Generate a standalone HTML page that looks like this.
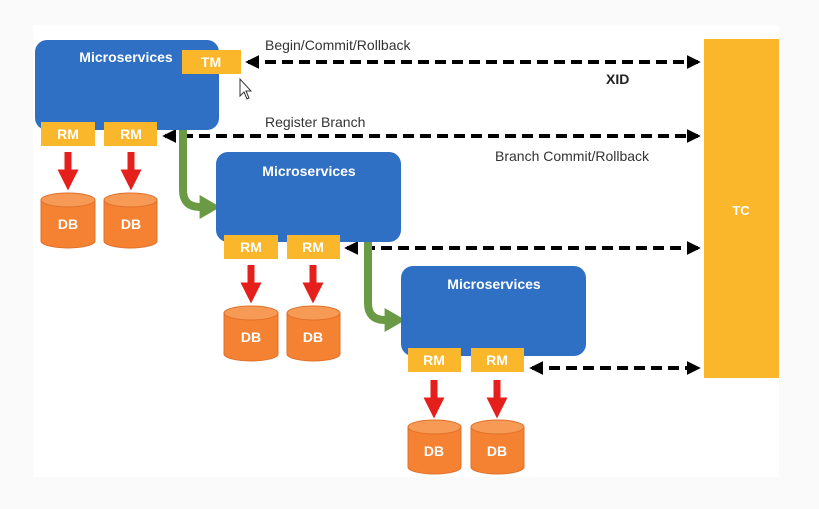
<!DOCTYPE html>
<html><head><meta charset="utf-8"><style>
html,body{margin:0;padding:0;background:#fafafa;}
svg{display:block;font-family:"Liberation Sans",sans-serif;}
</style></head><body>
<svg width="819" height="509" viewBox="0 0 819 509" xmlns="http://www.w3.org/2000/svg">
<defs>
<marker id="ah" markerWidth="3.5" markerHeight="3.5" refX="2.8" refY="1.75" orient="auto-start-reverse" markerUnits="strokeWidth"><path d="M0,0 L3.5,1.75 L0,3.5 Z" fill="#000"/></marker>
<marker id="ra" markerWidth="3" markerHeight="3" refX="1.5" refY="1.5" orient="auto" markerUnits="strokeWidth"><path d="M0,0 L3,1.5 L0,3 Z" fill="#e5201c"/></marker>
<marker id="ga" markerWidth="2.6" markerHeight="3" refX="1.3" refY="1.5" orient="auto" markerUnits="strokeWidth"><path d="M0,0 L2.6,1.5 L0,3 Z" fill="#6a9a44"/></marker>
</defs>
<rect x="0" y="0" width="819" height="509" fill="#fafafa"/>
<rect x="33" y="25" width="746" height="452" fill="#fff"/>
<rect x="704" y="39" width="75" height="339" fill="#fbb72c"/>
<text x="741" y="215" fill="#fff" font-size="13" font-weight="bold" text-anchor="middle">TC</text>
<g stroke="#000" stroke-width="4" stroke-dasharray="11,6" fill="none">
<line x1="248" y1="62" x2="698" y2="62" marker-start="url(#ah)" marker-end="url(#ah)"/>
<line x1="165" y1="136" x2="698" y2="136" marker-start="url(#ah)" marker-end="url(#ah)"/>
<line x1="347" y1="248" x2="698" y2="248" marker-start="url(#ah)" marker-end="url(#ah)"/>
<line x1="532" y1="368" x2="698" y2="368" marker-start="url(#ah)" marker-end="url(#ah)"/>
</g>
<g font-size="14" fill="#333">
<text x="265" y="50">Begin/Commit/Rollback</text>
<text x="606" y="84" font-weight="bold" fill="#222">XID</text>
<text x="265" y="127">Register Branch</text>
<text x="495" y="161">Branch Commit/Rollback</text>
</g>
<path d="M183,123 V190 Q183,207 200,207 H210" stroke="#6a9a44" stroke-width="8" fill="none" marker-end="url(#ga)"/>
<path d="M368,236 V303 Q368,320 385,320 H395" stroke="#6a9a44" stroke-width="8" fill="none" marker-end="url(#ga)"/>
<g fill="#2f6fc4">
<rect x="35" y="40" width="184" height="90" rx="12"/>
<rect x="216" y="152" width="185" height="90" rx="12"/>
<rect x="401" y="266" width="185" height="90" rx="12"/>
</g>
<g fill="#fff" font-size="14" font-weight="bold" text-anchor="middle">
<text x="126" y="62">Microservices</text>
<text x="309" y="176">Microservices</text>
<text x="494" y="289">Microservices</text>
</g>
<rect x="182" y="50" width="59" height="24" fill="#fbb72c"/>
<text x="211" y="67" fill="#fff" font-size="14" font-weight="bold" text-anchor="middle">TM</text>
<g fill="#fbb72c">
<rect x="41" y="122" width="54" height="24"/>
<rect x="104" y="122" width="53" height="24"/>
<rect x="224" y="235" width="54" height="24"/>
<rect x="287" y="235" width="53" height="24"/>
<rect x="408" y="348" width="53" height="24"/>
<rect x="471" y="348" width="53" height="24"/>
</g>
<g fill="#fff" font-size="14" font-weight="bold" text-anchor="middle">
<text x="68" y="139">RM</text><text x="131" y="139">RM</text>
<text x="251" y="252">RM</text><text x="313" y="252">RM</text>
<text x="434" y="365">RM</text><text x="497" y="365">RM</text>
</g>
<g stroke="#e5201c" stroke-width="7" marker-end="url(#ra)">
<line x1="68" y1="152" x2="68" y2="180"/><line x1="131" y1="152" x2="131" y2="180"/>
<line x1="251" y1="265" x2="251" y2="293"/><line x1="313" y1="265" x2="313" y2="293"/>
<line x1="434" y1="380" x2="434" y2="408"/><line x1="497" y1="380" x2="497" y2="408"/>
</g>
<g fill="#f58232" stroke="#e0702a" stroke-width="1">
<path d="M41,200 V241 A27,7 0 0 0 95,241 V200 Z"/><ellipse cx="68" cy="200" rx="27" ry="7" fill="#f79a55"/>
<path d="M104,200 V241 A26.5,7 0 0 0 157,241 V200 Z"/><ellipse cx="130.5" cy="200" rx="26.5" ry="7" fill="#f79a55"/>
<path d="M224,313 V354 A27,7 0 0 0 278,354 V313 Z"/><ellipse cx="251" cy="313" rx="27" ry="7" fill="#f79a55"/>
<path d="M287,313 V354 A26.5,7 0 0 0 340,354 V313 Z"/><ellipse cx="313.5" cy="313" rx="26.5" ry="7" fill="#f79a55"/>
<path d="M408,427 V467 A26.5,7 0 0 0 461,467 V427 Z"/><ellipse cx="434.5" cy="427" rx="26.5" ry="7" fill="#f79a55"/>
<path d="M471,427 V467 A26.5,7 0 0 0 524,467 V427 Z"/><ellipse cx="497.5" cy="427" rx="26.5" ry="7" fill="#f79a55"/>
</g>
<g fill="#fff" font-size="14" font-weight="bold" text-anchor="middle">
<text x="68" y="229">DB</text><text x="131" y="229">DB</text>
<text x="251" y="342">DB</text><text x="313" y="342">DB</text>
<text x="434" y="456">DB</text><text x="497" y="456">DB</text>
</g>
<path d="M240,79 L240,96 L244,92 L247,99 L249,98 L246,91 L251,91 Z" fill="#fff" stroke="#333" stroke-width="1"/>
</svg>
</body></html>
